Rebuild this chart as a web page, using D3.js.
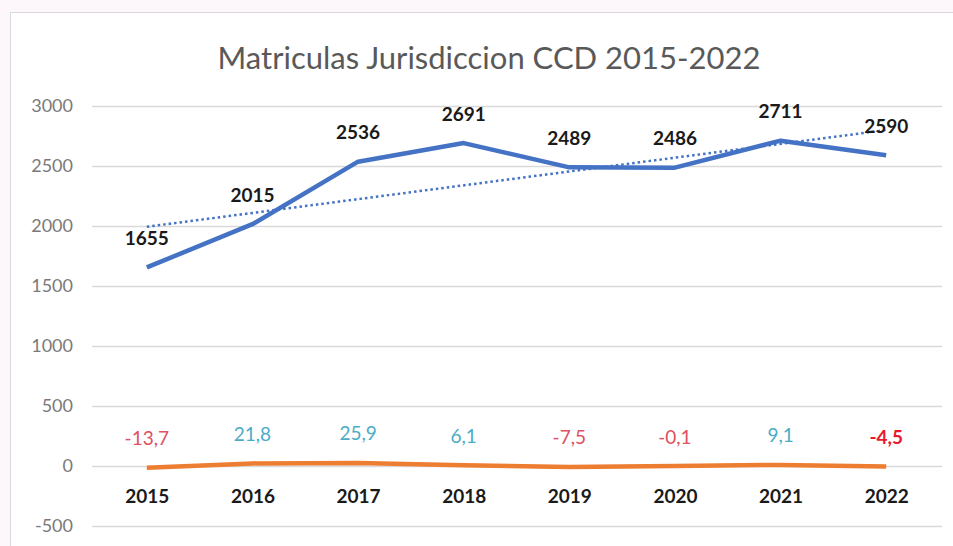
<!DOCTYPE html>
<html>
<head>
<meta charset="utf-8">
<script src="https://cdn.jsdelivr.net/npm/d3@7"></script>
<style>
  html, body { margin: 0; padding: 0; background: #fdf6fb; }
  svg { display: block; }
  text { font-family: Lato, "Open Sans", sans-serif; }
</style>
</head>
<body>
<div id="chart"></div>
<script>
const years = ["2015", "2016", "2017", "2018", "2019", "2020", "2021", "2022"]
const matriculas = [1655, 2015, 2536, 2691, 2489, 2486, 2711, 2590]
const variacion = [-13.7, 21.8, 25.9, 6.1, -7.5, -0.1, 9.1, -4.5]
const yTicks = [-500, 0, 500, 1000, 1500, 2000, 2500, 3000]

const w = 953
const h = 546

const svg = d3.select('#chart')
    .append('svg')
    .attr('width', w)
    .attr('height', h)

// chart box
svg.append('rect')
    .attr('x', 10.5)
    .attr('y', 12.5)
    .attr('width', w + 20)
    .attr('height', h + 20)
    .attr('fill', '#ffffff')
    .attr('stroke', '#d9d9d9')

svg.append('text')
    .attr('x', 489)
    .attr('y', 57)
    .attr('text-anchor', 'middle')
    .attr('dominant-baseline', 'central')
    .attr('fill', '#595959')
    .style('font-size', '31px')
    .text('Matriculas Jurisdiccion CCD 2015-2022')

// scales
const xScale = d3.scalePoint()
    .domain(years)
    .range([94, 939])
    .padding(0.5)

const yScale = d3.scaleLinear()
    .domain([-500, 3000])
    .range([526, 106])

// grid
svg.append('g')
    .selectAll('line')
    .data(yTicks)
    .enter()
    .append('line')
    .attr('x1', 92)
    .attr('x2', 942)
    .attr('y1', d => Math.round(yScale(d)) + 0.5)
    .attr('y2', d => Math.round(yScale(d)) + 0.5)
    .attr('stroke', '#d9d9d9')
    .attr('stroke-width', 1.5)

// y axis labels
const yAxis = d3.axisLeft(yScale)
    .tickValues(yTicks)
    .tickFormat(d => String(d))
    .tickSize(0)
    .tickPadding(0)
const gy = svg.append('g')
    .attr('transform', 'translate(73,0)')
    .call(yAxis)
gy.select('.domain').remove()
gy.selectAll('text')
    .attr('fill', '#7a7a7a')
    .style('font-size', '18px')
    .style('font-family', 'Lato, sans-serif')

// trend line (least squares on the data)
const n = matriculas.length
const xm = d3.mean(d3.range(n))
const ym = d3.mean(matriculas)
const slope = d3.sum(matriculas, (v, i) => (i - xm) * (v - ym)) / d3.sum(d3.range(n), i => (i - xm) * (i - xm))
const intercept = ym - slope * xm

svg.append('line')
    .attr('x1', xScale(years[0]))
    .attr('x2', xScale(years[n - 1]))
    .attr('y1', yScale(intercept))
    .attr('y2', yScale(intercept + slope * (n - 1)))
    .attr('stroke', '#4472c4')
    .attr('stroke-width', 2.5)
    .attr('stroke-dasharray', '2.5,3')

const line = d3.line()
    .x((d, i) => xScale(years[i]))
    .y(d => yScale(d))

svg.append('path')
    .datum(variacion)
    .attr('d', line)
    .attr('fill', 'none')
    .attr('stroke', '#ed7d31')
    .attr('stroke-width', 4.5)
    .attr('stroke-linejoin', 'round')

svg.append('path')
    .datum(matriculas)
    .attr('d', line)
    .attr('fill', 'none')
    .attr('stroke', '#4472c4')
    .attr('stroke-width', 4.5)
    .attr('stroke-linejoin', 'round')

// data labels
svg.append('g')
    .selectAll('text')
    .data(matriculas)
    .enter()
    .append('text')
    .attr('x', (d, i) => xScale(years[i]))
    .attr('y', d => yScale(d) - 30)
    .attr('text-anchor', 'middle')
    .attr('dominant-baseline', 'central')
    .attr('fill', '#1a1a1a')
    .style('font-size', '19px')
    .style('font-weight', 'bold')
    .text(d => d)

const fmt = v => v.toFixed(1).replace('.', ',')
svg.append('g')
    .selectAll('text')
    .data(variacion)
    .enter()
    .append('text')
    .attr('x', (d, i) => xScale(years[i]))
    .attr('y', d => yScale(d) - 30)
    .attr('text-anchor', 'middle')
    .attr('dominant-baseline', 'central')
    .attr('fill', (d, i) => i === n - 1 ? '#e8192c' : (d < 0 ? '#e0505e' : '#4bacc6'))
    .style('font-size', '19px')
    .style('font-weight', (d, i) => i === n - 1 ? 'bold' : 'normal')
    .text(d => fmt(d))

// x axis labels
const xAxis = d3.axisBottom(xScale)
    .tickSize(0)
    .tickPadding(0)
const gx = svg.append('g')
    .attr('transform', 'translate(0,' + (yScale(0) + 29) + ')')
    .call(xAxis)
gx.select('.domain').remove()
gx.selectAll('text')
    .attr('dy', null)
    .attr('dominant-baseline', 'central')
    .attr('fill', '#1a1a1a')
    .style('font-size', '19px')
    .style('font-weight', 'bold')
    .style('font-family', 'Lato, sans-serif')
</script>
</body>
</html>
